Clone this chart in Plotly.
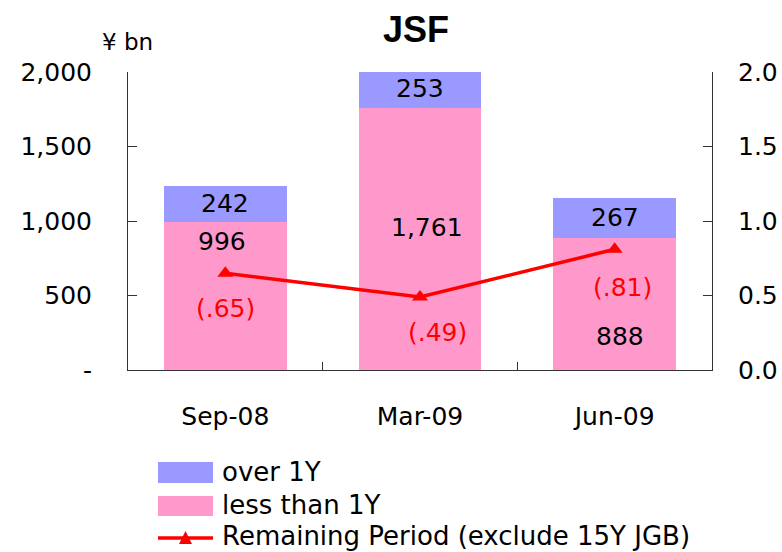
import plotly.graph_objects as go

# ---- data ----
categories = ["Sep-08", "Mar-09", "Jun-09"]
less_than_1y = [996, 1761, 888]
over_1y = [242, 253, 267]
remaining_period = [0.65, 0.49, 0.81]

less_labels = ["996", "1,761", "888"]
over_labels = ["242", "253", "267"]
period_labels = ["(.65)", "(.49)", "(.81)"]

left_tickvals = [0, 500, 1000, 1500, 2000]
left_ticktext = ["-", "500", "1,000", "1,500", "2,000"]
right_tickvals = [0, 0.5, 1.0, 1.5, 2.0]
right_ticktext = ["0.0", "0.5", "1.0", "1.5", "2.0"]

series_names = ["over 1Y", "less than 1Y", "Remaining Period (exclude 15Y JGB)"]

# ---- style ----
BLUE = "#9999FF"
PINK = "#FF99CC"
RED = "#FF0000"
AXIS = "#333333"
NUM_FONT = "DejaVu Sans"
TITLE_FONT = "Liberation Sans"
LEG_FONT = "DejaVu Sans"

W, H = 782, 552
ML, MR, MT, MB = 128, 70, 72, 182
PW, PH = W - ML - MR, H - MT - MB

less_shift = [(-3, 54), (7, 11), (5, -33)]
period_shift = [(0, -35), (17, -36), (8, -38)]


def px(x):
    return (x - ML) / PW


def py(y):
    return (H - MB - y) / PH


fig = go.Figure()
fig.add_trace(go.Bar(x=categories, y=less_than_1y, name=series_names[1],
                     marker=dict(color=PINK, line=dict(width=0)), yaxis="y",
                     showlegend=False, hoverinfo="x+y"))
fig.add_trace(go.Bar(x=categories, y=over_1y, name=series_names[0],
                     marker=dict(color=BLUE, line=dict(width=0)), yaxis="y",
                     showlegend=False, hoverinfo="x+y"))
fig.add_trace(go.Scatter(x=categories, y=remaining_period, name=series_names[2],
                         mode="lines+markers", yaxis="y2",
                         line=dict(color=RED, width=3.5),
                         marker=dict(symbol="triangle-up", size=14, color=RED),
                         showlegend=False))

annotations = []
for i, c in enumerate(categories):
    annotations.append(dict(x=c, y=less_than_1y[i] + over_1y[i] / 2, xref="x", yref="y",
                            text=over_labels[i], showarrow=False,
                            font=dict(family=NUM_FONT, size=25, color="black")))
    annotations.append(dict(x=c, y=less_than_1y[i] / 2, xref="x", yref="y",
                            text=less_labels[i], showarrow=False,
                            xshift=less_shift[i][0], yshift=less_shift[i][1],
                            font=dict(family=NUM_FONT, size=25, color="black")))
    annotations.append(dict(x=c, y=remaining_period[i], xref="x", yref="y2",
                            text=period_labels[i], showarrow=False,
                            xshift=period_shift[i][0], yshift=period_shift[i][1],
                            font=dict(family=NUM_FONT, size=25, color=RED)))

# unit label
annotations.append(dict(x=px(127), y=py(42), xref="paper", yref="paper",
                        text="¥ bn", showarrow=False, xanchor="center", yanchor="middle",
                        font=dict(family=NUM_FONT, size=23, color="black")))

# custom legend
shapes = [
    dict(type="rect", xref="paper", yref="paper", x0=px(158), x1=px(213),
         y0=py(483), y1=py(462), fillcolor=BLUE, line=dict(width=0)),
    dict(type="rect", xref="paper", yref="paper", x0=px(158), x1=px(213),
         y0=py(516), y1=py(496), fillcolor=PINK, line=dict(width=0)),
    dict(type="line", xref="paper", yref="paper", x0=px(158), x1=px(213),
         y0=py(538), y1=py(538), line=dict(color=RED, width=3.5)),
    dict(type="path", xref="paper", yref="paper",
         path=f"M{px(179)},{py(544)} L{px(192)},{py(544)} L{px(185.5)},{py(531)} Z",
         fillcolor=RED, line=dict(width=0)),
]
for txt, yy in zip(series_names, [472, 505, 536]):
    annotations.append(dict(x=px(220), y=py(yy), xref="paper", yref="paper",
                            text=txt, showarrow=False, xanchor="left", yanchor="middle",
                            font=dict(family=LEG_FONT, size=26, color="black")))

fig.update_layout(
    width=W, height=H,
    margin=dict(l=ML, r=MR, t=MT, b=MB, pad=0, autoexpand=False),
    paper_bgcolor="white", plot_bgcolor="white",
    barmode="stack", bargap=0.37,
    title=dict(text="<b>JSF</b>", xref="container", x=416 / W, xanchor="center",
               yref="container", y=1 - 29 / H, yanchor="middle",
               font=dict(family=TITLE_FONT, size=36, color="black")),
    showlegend=False,
    xaxis=dict(type="category", showline=True, linecolor=AXIS, linewidth=1,
               ticks="inside", tickson="boundaries", ticklen=8, tickcolor=AXIS,
               tickfont=dict(family=NUM_FONT, size=25, color="black"),
               ticklabelstandoff=24, showgrid=False, zeroline=False, automargin=False),
    yaxis=dict(range=[0, 2000], tickvals=left_tickvals, ticktext=left_ticktext,
               showline=True, linecolor=AXIS, linewidth=1, ticks="inside", ticklen=9,
               tickcolor=AXIS, tickfont=dict(family=NUM_FONT, size=25, color="black"),
               ticklabelstandoff=30, showgrid=False, zeroline=False, automargin=False),
    yaxis2=dict(range=[0, 2], tickvals=right_tickvals, ticktext=right_ticktext,
                overlaying="y", side="right", showline=True, linecolor=AXIS, linewidth=1,
                ticks="inside", ticklen=9, tickcolor=AXIS,
                tickfont=dict(family=NUM_FONT, size=25, color="black"),
                ticklabelstandoff=20, showgrid=False, zeroline=False, automargin=False),
    annotations=annotations,
    shapes=shapes,
)

fig.write_html("out.html", config={"displayModeBar": False},
               post_script="document.body.style.margin='0';document.body.style.padding='0';document.body.style.overflow='hidden';")
